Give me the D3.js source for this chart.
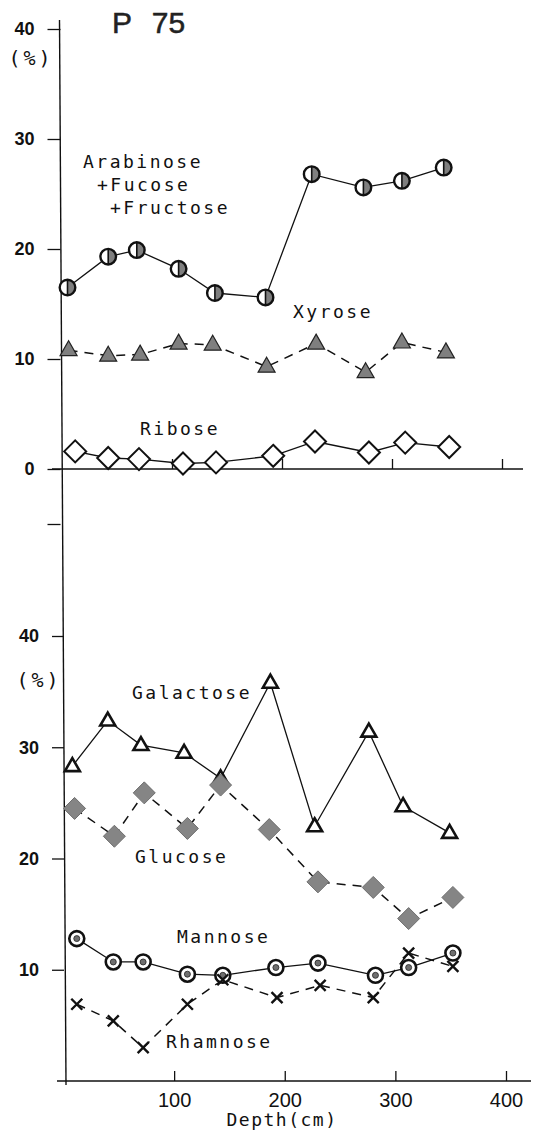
<!DOCTYPE html>
<html>
<head>
<meta charset="utf-8">
<script src="https://cdn.jsdelivr.net/npm/d3@7"></script>
<style>
  html, body { margin: 0; padding: 0; background: #fff; }
  svg { display: block; }
  .lbl { font-family: "DejaVu Sans Mono", monospace; font-size: 18px; letter-spacing: 2.5px; fill: #111; }
  .tick text { font-family: "Liberation Sans", Arial, sans-serif; fill: #111; }
</style>
</head>
<body>
<svg id="chart" width="535" height="1137"></svg>
<script>
// Depth profile of core P 75: neutral sugar composition (%) versus depth (cm)

const yTicksTop = [-5, 0, 10, 20, 30, 40];
const yTicksBottom = [10, 20, 30, 40];
const depthTicks = [100, 200, 300, 400];

// Upper panel
const arabinoseDepth = [5, 42, 68, 106, 139, 185, 227, 274, 309, 347];
const arabinoseValue = [16.5, 19.3, 19.9, 18.2, 16.0, 15.6, 26.8, 25.6, 26.2, 27.4];

const xyroseDepth = [6, 42, 71, 106, 137, 186, 231, 276, 309, 349];
const xyroseValue = [10.8, 10.3, 10.4, 11.4, 11.3, 9.3, 11.4, 8.8, 11.5, 10.6];

const riboseDepth = [12, 42, 70, 110, 140, 192, 230, 279, 312, 352];
const riboseValue = [1.6, 1.0, 0.9, 0.5, 0.6, 1.2, 2.5, 1.5, 2.4, 2.0];

// Lower panel
const galactoseDepth = [8, 40, 70, 109, 142, 187, 227, 276, 307, 349];
const galactoseValue = [28.3, 32.4, 30.2, 29.5, 27.2, 35.8, 22.9, 31.4, 24.7, 22.3];

const glucoseDepth = [10, 46, 73, 112, 142, 186, 230, 280, 312, 352];
const glucoseValue = [24.5, 22.0, 25.9, 22.7, 26.6, 22.6, 17.9, 17.4, 14.6, 16.5];

const mannoseDepth = [12, 45, 72, 112, 144, 192, 230, 282, 312, 352];
const mannoseValue = [12.8, 10.7, 10.7, 9.6, 9.5, 10.2, 10.6, 9.5, 10.2, 11.5];

const rhamnoseDepth = [12, 45, 72, 112, 144, 193, 232, 280, 312, 352];
const rhamnoseValue = [6.9, 5.4, 3.0, 6.9, 9.1, 7.5, 8.6, 7.5, 11.5, 10.3];

const svg = d3.select("#chart");
const GRAY = "#7f7f7f";

const xTop = d3.scaleLinear().domain([0, 400]).range([62, 502]);
const yTop = d3.scaleLinear().domain([0, 40]).range([469, 29]);
const xBot = d3.scaleLinear().domain([0, 400]).range([63.5, 506]);
const yBot = d3.scaleLinear().domain([0, 40]).range([1081, 636]);

const zip = (ds, vs) => ds.map((d, i) => ({ d, v: vs[i] }));

// ---- axes ----
// continuous vertical axis running through both panels
svg.append("line")
  .attr("x1", 59.5).attr("y1", 20)
  .attr("x2", 66).attr("y2", 1085)
  .attr("stroke", "#111").attr("stroke-width", 1.4);

function styleAxis(g, fontSize, weight) {
  g.select(".domain").remove();
  g.selectAll(".tick line").attr("stroke", "#111").attr("stroke-width", 1.3);
  g.selectAll(".tick text").attr("font-size", fontSize).attr("font-weight", weight).attr("fill", "#111");
}

svg.append("g")
  .attr("transform", "translate(60.5,0)")
  .call(d3.axisLeft(yTop).tickValues(yTicksTop).tickSize(13).tickPadding(13)
    .tickFormat(d => d < 0 ? "" : d))
  .call(g => styleAxis(g, 18, "bold"));

svg.append("g")
  .attr("transform", "translate(64,0)")
  .call(d3.axisLeft(yBot).tickValues(yTicksBottom).tickSize(12).tickPadding(13))
  .call(g => styleAxis(g, 18, "bold"));

// zero line of upper panel with upward ticks
svg.append("line")
  .attr("x1", 52).attr("x2", 523)
  .attr("y1", yTop(0)).attr("y2", yTop(0))
  .attr("stroke", "#111").attr("stroke-width", 1.4);
svg.append("g")
  .attr("transform", `translate(0,${yTop(0)})`)
  .call(d3.axisTop(xTop).tickValues(depthTicks).tickSize(10).tickFormat(""))
  .call(g => styleAxis(g, 0, "normal"));

// depth axis of lower panel
svg.append("line")
  .attr("x1", 57).attr("x2", 531)
  .attr("y1", yBot(0)).attr("y2", yBot(0))
  .attr("stroke", "#111").attr("stroke-width", 1.4);
svg.append("g")
  .attr("transform", `translate(0,${yBot(0)})`)
  .call(d3.axisBottom(xBot).tickValues(depthTicks).tickSize(-10).tickPadding(12))
  .call(g => styleAxis(g, 20, "normal"));

// ---- text ----
svg.append("text").attr("x", 112).attr("y", 33)
  .attr("font-family", "Liberation Sans, Arial, sans-serif")
  .attr("font-size", 30).attr("fill", "#222").attr("stroke", "#222").attr("stroke-width", 0.5)
  .attr("word-spacing", 12)
  .text("P 75");

const unit = [[31, 58], [39, 680]];
unit.forEach(([x, y]) => svg.append("text").attr("class", "lbl")
  .attr("x", x).attr("y", y).attr("text-anchor", "middle").attr("dy", "0.35em")
  .style("font-size", "20px").style("letter-spacing", "3px").text("(%)"));

const labels = [
  ["Arabinose", 83, 168], ["+Fucose", 97, 191], ["+Fructose", 110, 214],
  ["Xyrose", 293, 318], ["Ribose", 140, 435],
  ["Galactose", 132, 699], ["Glucose", 135, 863],
  ["Mannose", 177, 943], ["Rhamnose", 166, 1048]
];
labels.forEach(([t, x, y]) => svg.append("text").attr("class", "lbl").attr("x", x).attr("y", y).text(t));

svg.append("text").attr("class", "lbl").attr("x", 282).attr("y", 1126)
  .attr("text-anchor", "middle").style("letter-spacing", "1.5px").text("Depth(cm)");

// ---- series ----
function drawLine(data, x, y, dashed) {
  svg.append("path").datum(data)
    .attr("fill", "none").attr("stroke", "#111")
    .attr("stroke-width", dashed ? 1.5 : 1.3)
    .attr("stroke-dasharray", dashed ? "9,7" : null)
    .attr("d", d3.line().x(p => x(p.d)).y(p => y(p.v)));
}

function markers(data, x, y, draw) {
  const g = svg.append("g");
  data.forEach(p => draw(g.append("g").attr("transform", `translate(${x(p.d)},${y(p.v)})`)));
}

const halfCircle = g => {
  const r = 7.8;
  g.append("circle").attr("r", r).attr("fill", "#fff");
  g.append("path").attr("d", `M0,${-r}A${r},${r} 0 0 1 0,${r}Z`).attr("fill", GRAY);
  g.append("line").attr("y1", -r).attr("y2", r).attr("stroke", "#111").attr("stroke-width", 1.6);
  g.append("circle").attr("r", r).attr("fill", "none").attr("stroke", "#111").attr("stroke-width", 2.4);
};
const filledTriangle = g => g.append("path").attr("d", "M0,-9.5L8.5,5.5L-8.5,5.5Z")
  .attr("fill", GRAY).attr("stroke", "#222").attr("stroke-width", 1.2);
const openTriangle = g => g.append("path").attr("d", "M0,-8L7.5,5L-7.5,5Z")
  .attr("fill", "#fff").attr("stroke", "#111").attr("stroke-width", 2.6);
const openDiamond = g => g.append("path").attr("d", "M0,-11L11,0L0,11L-11,0Z")
  .attr("fill", "#fff").attr("stroke", "#111").attr("stroke-width", 2);
const grayDiamond = g => g.append("path").attr("d", "M0,-11L11,0L0,11L-11,0Z")
  .attr("fill", "#858585").attr("stroke", "#6e6e6e").attr("stroke-width", 1);
const bullseye = g => {
  g.append("circle").attr("r", 7.5).attr("fill", "#fff").attr("stroke", "#111").attr("stroke-width", 2.6);
  g.append("circle").attr("r", 3).attr("fill", "#6f6f6f").attr("stroke", "#222").attr("stroke-width", 0.8);
};
const cross = g => g.append("path").attr("d", "M-5.5,-5.5L5.5,5.5M-5.5,5.5L5.5,-5.5")
  .attr("stroke", "#111").attr("stroke-width", 2.4).attr("fill", "none");

const arabinose = zip(arabinoseDepth, arabinoseValue);
const xyrose = zip(xyroseDepth, xyroseValue);
const ribose = zip(riboseDepth, riboseValue);
const galactose = zip(galactoseDepth, galactoseValue);
const glucose = zip(glucoseDepth, glucoseValue);
const mannose = zip(mannoseDepth, mannoseValue);
const rhamnose = zip(rhamnoseDepth, rhamnoseValue);

drawLine(arabinose, xTop, yTop, false);
drawLine(xyrose, xTop, yTop, true);
drawLine(ribose, xTop, yTop, false);
markers(arabinose, xTop, yTop, halfCircle);
markers(xyrose, xTop, yTop, filledTriangle);
markers(ribose, xTop, yTop, openDiamond);

drawLine(galactose, xBot, yBot, false);
drawLine(glucose, xBot, yBot, true);
drawLine(mannose, xBot, yBot, false);
drawLine(rhamnose, xBot, yBot, true);
markers(galactose, xBot, yBot, openTriangle);
markers(glucose, xBot, yBot, grayDiamond);
markers(mannose, xBot, yBot, bullseye);
markers(rhamnose, xBot, yBot, cross);
</script>
</body>
</html>
